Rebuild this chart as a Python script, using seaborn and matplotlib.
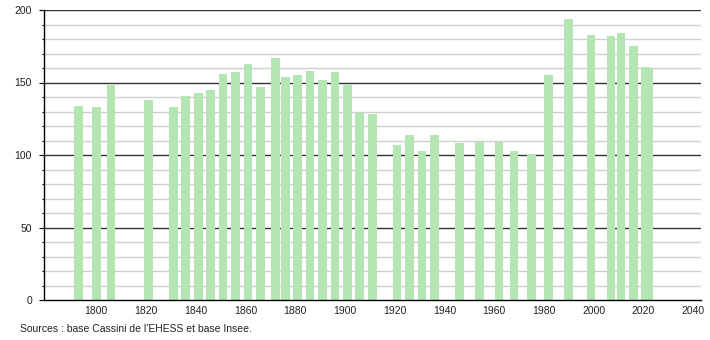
import matplotlib
matplotlib.use("Agg")
import matplotlib.pyplot as plt
from matplotlib.ticker import MultipleLocator
import seaborn as sns
import pandas as pd

years = [1793, 1800, 1806, 1821, 1831, 1836, 1841, 1846, 1851, 1856, 1861, 1866,
         1872, 1876, 1881, 1886, 1891, 1896, 1901, 1906, 1911, 1921, 1926, 1931,
         1936, 1946, 1954, 1962, 1968, 1975, 1982, 1990, 1999, 2007, 2011, 2016,
         2021, 2022]
population = [134, 133, 148, 138, 133, 141, 143, 145, 156, 157, 163, 147,
              167, 154, 155, 158, 152, 157, 149, 129, 128, 107, 114, 103,
              114, 108, 109, 109, 103, 101, 155, 194, 183, 182, 184, 175,
              161, 159]
x_ticks = [1800, 1820, 1840, 1860, 1880, 1900, 1920, 1940, 1960, 1980, 2000, 2020, 2040]
y_ticks = [0, 50, 100, 150, 200]
source_text = "Sources : base Cassini de l'EHESS et base Insee."

df = pd.DataFrame({"year": years, "pop": population})

sns.set_theme(style="white")
plt.rcParams["font.family"] = ["Liberation Sans", "DejaVu Sans"]

fig = plt.figure(figsize=(7.1, 3.4), dpi=100)
ax = fig.add_axes([44 / 710, 40 / 340, (701 - 44) / 710, 290 / 340])

sns.barplot(data=df, x="year", y="pop", native_scale=True, width=3.5,
            color="#b3e6b3", saturation=1, errorbar=None, ax=ax, zorder=3,
            linewidth=0)

ax.set_xlim(1779, 2043.2)
ax.set_ylim(0, 200)
ax.set_xticks(x_ticks)
ax.set_xticklabels([str(t) for t in x_ticks])
ax.set_yticks(y_ticks)
ax.yaxis.set_minor_locator(MultipleLocator(10))

ax.grid(False)
for v in range(10, 201, 10):
    if v % 50 == 0:
        ax.axhline(v, color="#333333", lw=1, zorder=1)
    else:
        ax.axhline(v, color="#cfcfcf", lw=1, zorder=1)

for s in ["top", "right"]:
    ax.spines[s].set_visible(False)
for s in ["left", "bottom"]:
    ax.spines[s].set_color("black")
    ax.spines[s].set_linewidth(1)
    ax.spines[s].set_zorder(5)

ax.tick_params(axis="y", which="major", direction="out", length=3.6, width=0.8,
               color="black", pad=5, labelsize=7.5, labelcolor="#222222", left=True)
ax.tick_params(axis="y", which="minor", direction="out", length=1.8, width=0.8,
               color="black", left=True)
ax.tick_params(axis="x", which="both", length=0, pad=4, labelsize=7.5,
               labelcolor="#222222")
ax.set_xlabel("")
ax.set_ylabel("")

fig.text(20 / 710, 1 - 329 / 340, source_text, fontsize=7.5, color="#222222",
         ha="left", va="center")

fig.savefig("out.png", dpi=100)
